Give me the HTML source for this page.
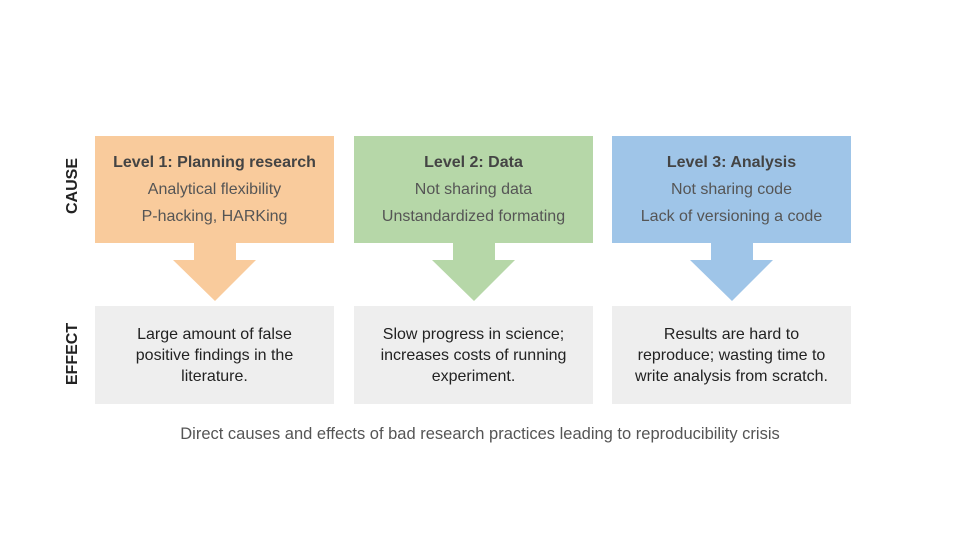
<!DOCTYPE html>
<html><head><meta charset="utf-8"><style>
body{margin:0;width:960px;height:540px;background:#fff;font-family:"Liberation Sans",sans-serif;position:relative;overflow:hidden}
.box{position:absolute;width:239px;text-align:center;color:#444}
.cause{top:136px;height:107px}
.t{font-weight:bold;font-size:16px;position:absolute;width:100%;top:18px}
.l{font-size:16px;position:absolute;width:100%;color:#555}
.eff{top:306px;height:98px;background:#eeeeee;color:#222;font-size:16px;line-height:21px;box-sizing:border-box;padding:18px 0 0;white-space:nowrap}
.side{position:absolute;font-weight:bold;font-size:16px;color:#222;transform:rotate(-90deg);transform-origin:center;width:80px;text-align:center;left:33px}
svg{position:absolute;left:0;top:0}
.cap{position:absolute;top:425px;width:960px;text-align:center;font-size:16.5px;color:#555}
</style></head><body>
<div class="side" style="top:177px">CAUSE</div>
<div class="side" style="top:345px">EFFECT</div>
<svg width="960" height="540">
<polygon fill="#f9cb9c" points="194,242 236,242 236,260 256,260 215,301 173,260 194,260"/>
<polygon fill="#b6d7a8" points="453,242 495,242 495,260 515,260 474,301 432,260 453,260"/>
<polygon fill="#9fc5e8" points="711,242 753,242 753,260 773,260 732,301 690,260 711,260"/>
</svg>
<div class="box cause" style="left:95px;background:#f9cb9c">
<div class="t">Level 1: Planning research</div><div class="l" style="top:45px">Analytical flexibility</div><div class="l" style="top:72px">P-hacking, HARKing</div></div>
<div class="box cause" style="left:354px;background:#b6d7a8">
<div class="t">Level 2: Data</div><div class="l" style="top:45px">Not sharing data</div><div class="l" style="top:72px">Unstandardized formating</div></div>
<div class="box cause" style="left:612px;background:#9fc5e8">
<div class="t">Level 3: Analysis</div><div class="l" style="top:45px">Not sharing code</div><div class="l" style="top:72px">Lack of versioning a code</div></div>
<div class="box eff" style="left:95px">Large amount of false<br>positive findings in the<br>literature.</div>
<div class="box eff" style="left:354px">Slow progress in science;<br>increases costs of running<br>experiment.</div>
<div class="box eff" style="left:612px">Results are hard to<br>reproduce; wasting time to<br>write analysis from scratch.</div>
<div class="cap">Direct causes and effects of bad research practices leading to reproducibility crisis</div>
</body></html>
